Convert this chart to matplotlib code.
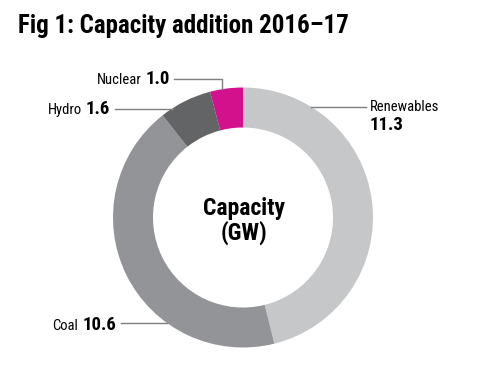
import matplotlib
matplotlib.use("Agg")
import matplotlib.pyplot as plt
from matplotlib import font_manager

# ---- data ----
categories = ["Renewables", "Coal", "Hydro", "Nuclear"]
values = [11.3, 10.6, 1.6, 1.0]
value_labels = ["11.3", "10.6", "1.6", "1.0"]
colors = ["#c6c7c9", "#939497", "#636466", "#d3118c"]

W, H = 480, 369

# pick a condensed sans font if available
fl = font_manager.fontManager.ttflist
fam, stretch = "DejaVu Sans", "normal"
found = False
for name in ["Liberation Sans Narrow", "Roboto Condensed", "Noto Sans Condensed",
             "Open Sans Condensed", "DejaVu Sans Condensed"]:
    if any(f.name == name for f in fl):
        fam, stretch, found = name, "normal", True
        break
if not found:
    for name in ["Roboto", "Noto Sans", "DejaVu Sans", "Liberation Sans"]:
        if any(f.name == name and f.stretch in ("condensed", "semi-condensed", 87.5, 75, "narrow")
               for f in fl):
            fam, stretch, found = name, "condensed", True
            break

fig = plt.figure(figsize=(4.8, 3.69), dpi=100)
ax = fig.add_axes([0, 0, 1, 1])

def Y(y):
    return H - y

cx, cy, R, ring = 243, 217.5, 130, 40
ax.pie(values, colors=colors, startangle=90, counterclock=False,
       center=(cx, Y(cy)), radius=R, frame=True,
       wedgeprops=dict(width=ring, linewidth=0))
ax.set_xlim(0, W)
ax.set_ylim(0, H)
ax.set_aspect("equal")
ax.axis("off")

tk = dict(family=fam, stretch=stretch)

# title
fig.text(18 / W, 1 - 33.5 / H, "Fig 1: Capacity addition 2016\u201317",
         fontsize=18, fontweight="bold", ha="left", va="baseline", **tk)

# centre label
ax.text(cx + 1, Y(215), "Capacity", fontsize=17, fontweight="bold",
        ha="center", va="baseline", **tk)
ax.text(cx + 1, Y(240), "(GW)", fontsize=17, fontweight="bold",
        ha="center", va="baseline", **tk)

lc = "#7f7f7f"
lw = 1.0
name_fs = 10.5
val_fs = 13.5


def left_label(i, x_right, y_base):
    t = ax.text(x_right, Y(y_base), value_labels[i], fontsize=val_fs, fontweight="bold",
                ha="right", va="baseline", **tk)
    ax.annotate(categories[i], xy=(0, Y(y_base)), xycoords=(t, "data"),
                xytext=(-3, 0), textcoords="offset points",
                fontsize=name_fs, ha="right", va="baseline", **tk)


# Nuclear
left_label(3, 170, 84)
ax.plot([174, 222, 222], [Y(79), Y(79), Y(89)], color=lc, lw=lw)

# Hydro
left_label(2, 110, 114)
ax.plot([115, 173], [Y(109), Y(109)], color=lc, lw=lw)

# Renewables
ax.text(370, Y(111), categories[0], fontsize=name_fs, ha="left", va="baseline", **tk)
ax.text(370, Y(130), value_labels[0], fontsize=val_fs, fontweight="bold",
        ha="left", va="baseline", **tk)
ax.plot([311, 366], [Y(107), Y(107)], color=lc, lw=lw)

# Coal
left_label(1, 116, 330)
ax.plot([121, 167], [Y(323), Y(323)], color=lc, lw=lw)

fig.savefig("out.png", dpi=100, facecolor="white")
